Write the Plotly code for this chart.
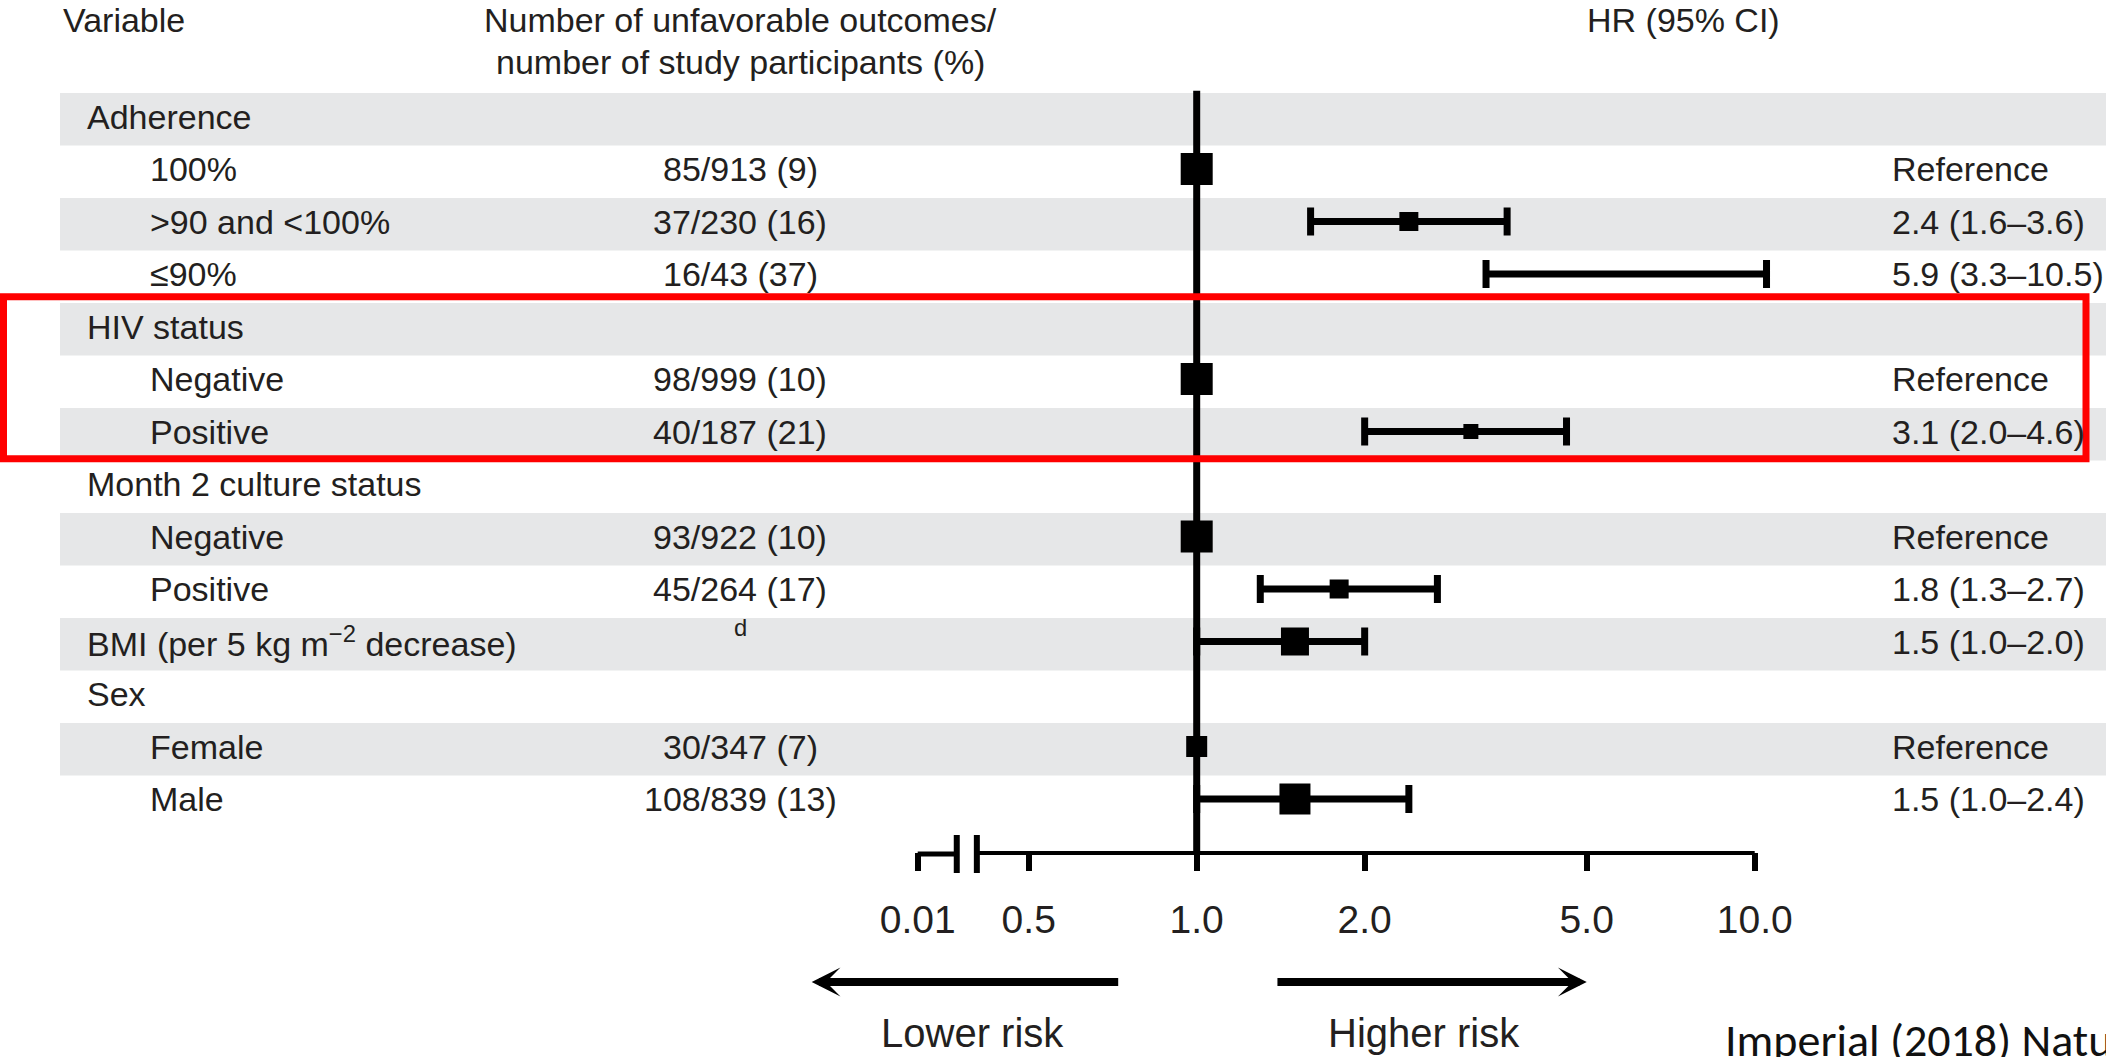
import math
import plotly.graph_objects as go

# ---------------- data ----------------
row_labels = ["Adherence", "100%", ">90 and <100%", "≤90%",
              "HIV status", "Negative", "Positive",
              "Month 2 culture status", "Negative", "Positive",
              "BMI (per 5 kg m<sup>−2</sup> decrease)",
              "Sex", "Female", "Male"]
row_is_group = [True, False, False, False,
                True, False, False,
                True, False, False,
                True,
                True, False, False]
counts = ["", "85/913 (9)", "37/230 (16)", "16/43 (37)",
          "", "98/999 (10)", "40/187 (21)",
          "", "93/922 (10)", "45/264 (17)",
          "<sup>d</sup>",
          "", "30/347 (7)", "108/839 (13)"]
hr = [None, 1.0, 2.4, 5.9,
      None, 1.0, 3.1,
      None, 1.0, 1.8,
      1.5,
      None, 1.0, 1.5]
ci_low = [None, None, 1.6, 3.3,
          None, None, 2.0,
          None, None, 1.3,
          1.0,
          None, None, 1.0]
ci_high = [None, None, 3.6, 10.5,
           None, None, 4.6,
           None, None, 2.7,
           2.0,
           None, None, 2.4]
hr_text = ["", "Reference", "2.4 (1.6–3.6)", "5.9 (3.3–10.5)",
           "", "Reference", "3.1 (2.0–4.6)",
           "", "Reference", "1.8 (1.3–2.7)",
           "1.5 (1.0–2.0)",
           "", "Reference", "1.5 (1.0–2.4)"]
tick_values = [0.01, 0.5, 1.0, 2.0, 5.0, 10.0]
tick_labels = ["0.01", "0.5", "1.0", "2.0", "5.0", "10.0"]

# ---------------- styles / layout ----------------
marker_px = [0, 32, 19, 0, 0, 32, 15, 0, 32, 19, 28, 0, 21, 31]
W, H = 2106, 1057
X1_PX, DEC_PX = 1196.7, 558.0          # pixel of HR = 1, pixels per decade
ROW0_PX, ROW_PX, AXIS_PX = 116.5, 52.5, 852.0
BREAK_POS = -0.50                      # where the 0.01 tick sits after the axis break
TXT = "#231f20"
FONT = "Liberation Sans, Arial, Helvetica, sans-serif"
GREY = "#e6e7e8"

x_range = [-X1_PX / DEC_PX, (W - X1_PX) / DEC_PX]
y_bottom = (AXIS_PX - ROW0_PX) / ROW_PX
y_range = [y_bottom, -ROW0_PX / ROW_PX]


def px(x):
    return x / W


def py(y):  # pixel y (below/above plot) -> paper y
    return (AXIS_PX - y) / AXIS_PX


def lg(v):
    return math.log10(v)


tick_pos = [BREAK_POS if v < 0.1 else lg(v) for v in tick_values]

fig = go.Figure()

# confidence intervals
ci_rows = [i for i in range(len(hr)) if ci_low[i] is not None]
fig.add_trace(go.Scatter(
    x=[lg(hr[i]) for i in ci_rows],
    y=ci_rows,
    mode="markers",
    marker=dict(size=0, color="black", opacity=1),
    error_x=dict(type="data", symmetric=False,
                 array=[lg(ci_high[i]) - lg(hr[i]) for i in ci_rows],
                 arrayminus=[lg(hr[i]) - lg(ci_low[i]) for i in ci_rows],
                 color="black", thickness=7, width=14),
    hoverinfo="skip", showlegend=False, cliponaxis=False,
))
# point estimates
est_rows = [i for i in range(len(hr)) if hr[i] is not None]
fig.add_trace(go.Scatter(
    x=[lg(hr[i]) for i in est_rows],
    y=est_rows,
    mode="markers",
    marker=dict(symbol="square", size=[marker_px[i] for i in est_rows],
                color="black", opacity=1, line=dict(width=0)),
    hoverinfo="skip", showlegend=False, cliponaxis=False,
))

shapes = []
# alternating grey bands
for i in range(0, len(row_labels), 2):
    shapes.append(dict(type="rect", xref="paper", yref="y", x0=px(60), x1=1,
                       y0=i - 0.45, y1=i + 0.55, fillcolor=GREY,
                       line=dict(width=0), layer="below"))
# reference line at HR = 1
shapes.append(dict(type="line", xref="x", yref="y", x0=lg(1.0), x1=lg(1.0),
                   y0=-0.49, y1=y_bottom, line=dict(color="black", width=7),
                   layer="below"))
# axis line with break
b1, b2 = BREAK_POS + 0.07, BREAK_POS + 0.106
shapes.append(dict(type="line", xref="x", yref="paper", x0=tick_pos[0], x1=b1,
                   y0=py(854), y1=py(854), line=dict(color="black", width=5)))
shapes.append(dict(type="line", xref="x", yref="paper", x0=b2, x1=tick_pos[-1],
                   y0=py(853), y1=py(853), line=dict(color="black", width=4)))
for b in (b1, b2):
    shapes.append(dict(type="line", xref="x", yref="paper", x0=b, x1=b,
                       y0=py(835), y1=py(873), line=dict(color="black", width=6)))
# red highlight rectangle around HIV status
shapes.append(dict(type="rect", xref="paper", yref="y", x0=px(3.5), x1=px(2086),
                   y0=4 - 0.567, y1=6 + 0.52, line=dict(color="#ff0000", width=7),
                   fillcolor="rgba(0,0,0,0)", layer="above"))

ann = []
f34 = dict(family=FONT, size=34, color=TXT)
# headers
ann.append(dict(x=px(61), y=-1.84, text="Variable", xanchor="left"))
ann.append(dict(x=px(740), y=-1.84, text="Number of unfavorable outcomes/", xanchor="center"))
ann.append(dict(x=px(740), y=-1.03, text="number of study participants (%)", xanchor="center"))
ann.append(dict(x=px(1683), y=-1.84, text="HR (95% CI)", xanchor="center"))
for i, lab in enumerate(row_labels):
    ann.append(dict(x=px(85 if row_is_group[i] else 148), y=i, text=lab, xanchor="left"))
    if counts[i]:
        ann.append(dict(x=px(740), y=i, text=counts[i], xanchor="center",
                        yshift=14 if counts[i].startswith("<sup>") else 0))
    if hr_text[i]:
        ann.append(dict(x=px(1890), y=i, text=hr_text[i], xanchor="left"))
for a in ann:
    a.update(xref="paper", yref="y", yanchor="middle", showarrow=False, font=f34)

# arrows & risk labels
for tip, tail in ((-0.69, -0.138), (lg(5.0), 0.142)):
    ann.append(dict(x=tip, y=py(982), xref="x", yref="paper", ax=tail, ay=0,
                    axref="x", ayref="pixel", text="", showarrow=True,
                    arrowhead=3, arrowsize=0.6, arrowwidth=8, arrowcolor="black",
                    standoff=0, startstandoff=0))
ann.append(dict(x=px(972), y=py(1033), xref="paper", yref="paper", text="Lower risk",
                showarrow=False, xanchor="center", yanchor="middle",
                font=dict(family=FONT, size=40, color=TXT)))
ann.append(dict(x=px(1424), y=py(1033), xref="paper", yref="paper", text="Higher risk",
                showarrow=False, xanchor="center", yanchor="middle",
                font=dict(family=FONT, size=40, color=TXT)))
# source note (cut by page edge as in the slide)
ann.append(dict(x=px(1723), y=py(1040), xref="paper", yref="paper",
                text="Imperial (2018) Nature Medicine", showarrow=False,
                xanchor="left", yanchor="middle",
                font=dict(family="Carlito, Calibri, Lato, sans-serif", size=46, color="#111111")))

fig.update_layout(
    width=W, height=H,
    margin=dict(l=0, r=0, t=0, b=H - AXIS_PX, pad=0),
    paper_bgcolor="white", plot_bgcolor="rgba(0,0,0,0)",
    shapes=shapes, annotations=ann,
    xaxis=dict(range=x_range, showgrid=False, zeroline=False, showline=False,
               ticks="outside", ticklen=18, tickwidth=6, tickcolor="black",
               tickmode="array", tickvals=tick_pos, ticktext=tick_labels,
               tickfont=dict(family=FONT, size=39, color=TXT),
               ticklabelstandoff=15, fixedrange=True),
    yaxis=dict(range=y_range, visible=False, fixedrange=True),
    showlegend=False,
)

fig.write_html("out.html", config={"displayModeBar": False},
               post_script="document.body.style.margin='0';document.body.style.overflow='hidden';")
